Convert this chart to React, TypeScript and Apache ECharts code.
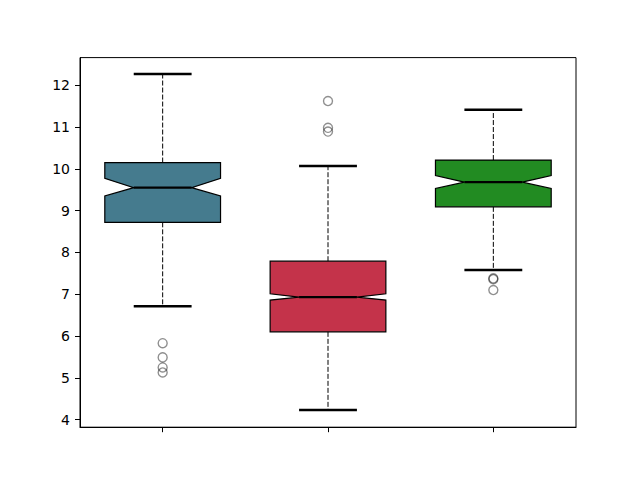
import React, { useEffect, useRef } from "react";
import * as echarts from "echarts";

const categories = ["1", "2", "3"];
const whiskerLow = [6.71, 4.23, 7.58];
const q1 = [8.72, 6.1, 9.09];
const notchLow = [9.35, 6.86, 9.53];
const median = [9.55, 6.93, 9.68];
const notchHigh = [9.77, 7.01, 9.84];
const q3 = [10.15, 7.79, 10.21];
const whiskerHigh = [12.27, 10.07, 11.41];
const outliers = [
  [5.83, 5.49, 5.25, 5.13],
  [11.62, 10.98, 10.89],
  [7.38, 7.36, 7.1],
];
const boxColors = ["#457b8e", "#c4334a", "#228b22"];
const yTicks = [4, 5, 6, 7, 8, 9, 10, 11, 12];

export default function App() {
  const ref = useRef<HTMLDivElement>(null);
  useEffect(() => {
    if (!ref.current) return;
    const chart = echarts.init(ref.current, null, { renderer: "svg" });
    const boxData = categories.map((_, i) => [
      i,
      whiskerLow[i],
      q1[i],
      notchLow[i],
      median[i],
      notchHigh[i],
      q3[i],
      whiskerHigh[i],
    ]);
    const outData: number[][] = [];
    outliers.forEach((arr, i) => arr.forEach((v) => outData.push([i, v])));

    chart.setOption({
      animation: false,
      backgroundColor: "#fff",
      grid: {
        left: 80,
        right: 64,
        top: 57.6,
        bottom: 52.8,
        show: true,
        borderColor: "#000",
        borderWidth: 1,
        backgroundColor: "transparent",
      },
      xAxis: {
        type: "category",
        data: categories,
        boundaryGap: true,
        axisLine: { show: true, lineStyle: { color: "#000", width: 1 } },
        axisTick: { show: true, alignWithLabel: true, length: 5, lineStyle: { color: "#000" } },
        axisLabel: { show: false },
        splitLine: { show: false },
      },
      yAxis: {
        type: "value",
        min: 3.82,
        max: 12.66,
        axisLine: { show: true, lineStyle: { color: "#000", width: 1 } },
        axisTick: { show: true, length: 5, customValues: yTicks, lineStyle: { color: "#000" } },
        axisLabel: {
          customValues: yTicks,
          margin: 10,
          color: "#000",
          fontSize: 14,
          fontFamily: "DejaVu Sans",
        },
        splitLine: { show: false },
      },
      series: [
        {
          type: "custom",
          data: boxData,
          encode: { x: 0, y: [1, 2, 3, 4, 5, 6, 7] },
          renderItem: (params: any, api: any) => {
            const i = api.value(0);
            const cx = api.coord([i, 0])[0];
            const band = api.size([1, 0])[0];
            const w = band * 0.7;
            const left = cx - w / 2;
            const right = cx + w / 2;
            const inset = w / 4;
            const Y = (k: number) => api.coord([i, api.value(k)])[1];
            const yWl = Y(1), yQ1 = Y(2), yNl = Y(3), yMed = Y(4), yNh = Y(5), yQ3 = Y(6), yWh = Y(7);
            const dash = { stroke: "#000", lineWidth: 1, lineDash: [5, 2] };
            const cap = { stroke: "#000", lineWidth: 2.5 };
            return {
              type: "group",
              children: [
                { type: "line", shape: { x1: cx, y1: yQ3, x2: cx, y2: yWh }, style: dash },
                { type: "line", shape: { x1: cx, y1: yQ1, x2: cx, y2: yWl }, style: dash },
                { type: "line", shape: { x1: cx - w / 4, y1: yWh, x2: cx + w / 4, y2: yWh }, style: cap },
                { type: "line", shape: { x1: cx - w / 4, y1: yWl, x2: cx + w / 4, y2: yWl }, style: cap },
                {
                  type: "polygon",
                  shape: {
                    points: [
                      [left, yQ1],
                      [left, yNl],
                      [left + inset, yMed],
                      [left, yNh],
                      [left, yQ3],
                      [right, yQ3],
                      [right, yNh],
                      [right - inset, yMed],
                      [right, yNl],
                      [right, yQ1],
                    ],
                  },
                  style: { fill: boxColors[i], stroke: "#000", lineWidth: 1.2 },
                },
                {
                  type: "line",
                  shape: { x1: left + inset, y1: yMed, x2: right - inset, y2: yMed },
                  style: { stroke: "#000", lineWidth: 2.2 },
                },
              ],
            };
          },
          z: 2,
        },
        {
          type: "scatter",
          data: outData,
          symbol: "circle",
          symbolSize: 9,
          itemStyle: {
            color: "transparent",
            borderColor: "rgba(0,0,0,0.55)",
            borderWidth: 1.4,
          },
          z: 3,
        },
      ],
    });
    return () => chart.dispose();
  }, []);
  return (
    <div
      ref={ref}
      style={{ position: "absolute", left: 0, top: 0, width: 640, height: 480 }}
    />
  );
}
